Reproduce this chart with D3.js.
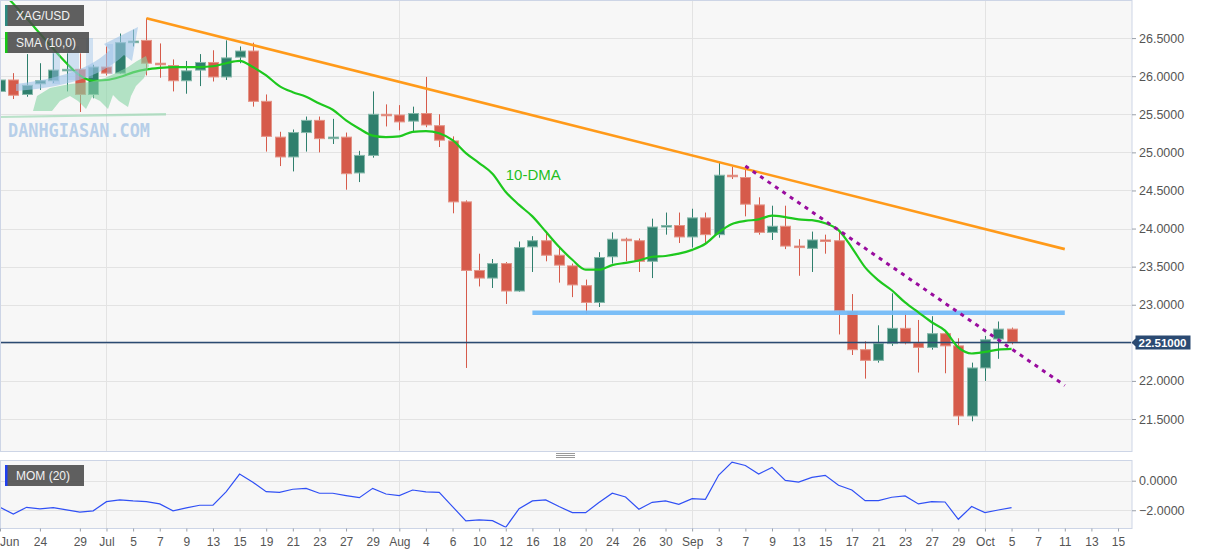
<!DOCTYPE html>
<html><head><meta charset="utf-8">
<script src="https://cdn.jsdelivr.net/npm/d3@7"></script>
<style>
html,body{margin:0;padding:0;background:#fff;overflow:hidden;}
svg{display:block;font-family:"Liberation Sans",Arial,sans-serif;}
</style></head><body>
<svg id="chart" width="1207" height="555"></svg>
<script>
// ---- DATA (XAG/USD daily, 2021-06-21 .. 2021-10-05, index = trading day) ----
const openP  = [25.80,25.95,25.76,25.90,25.94,26.07,26.09,25.76,26.12,26.04,26.44,26.47,26.17,26.14,25.94,26.08,26.18,25.99,26.25,26.33,25.67,25.20,24.94,25.26,25.42,25.19,25.20,24.73,24.96,25.50,25.49,25.41,25.51,25.35,25.15,24.35,23.45,23.35,23.54,23.18,23.76,23.84,23.65,23.51,23.25,23.03,23.63,23.86,23.84,23.57,24.02,24.04,23.89,24.14,23.92,24.70,24.67,24.31,23.95,24.03,23.77,23.74,23.85,23.84,22.91,22.41,22.27,22.49,22.69,22.50,22.44,22.62,22.46,21.54,22.17,22.55,22.68];
const highP  = [26.08,26.04,26.29,26.17,26.30,26.30,26.30,26.15,26.39,26.56,26.61,26.76,26.43,26.22,26.20,26.29,26.34,26.47,26.39,26.44,25.76,25.27,25.30,25.47,25.47,25.44,25.26,25.02,25.80,25.63,25.62,25.60,25.99,25.50,25.21,24.37,23.67,23.60,23.56,23.83,23.90,23.96,23.76,23.54,23.33,23.69,23.95,23.88,23.87,24.13,24.21,24.21,24.26,24.21,24.86,24.81,24.82,24.41,24.30,24.30,23.86,23.96,23.92,23.96,23.14,22.52,22.73,23.15,22.89,22.80,22.85,22.65,22.56,22.24,22.59,22.78,22.70];
const lowP   = [25.56,25.70,25.73,25.82,25.91,25.80,25.53,25.71,26.01,26.03,26.39,26.01,25.98,25.80,25.77,25.87,25.93,25.95,26.17,25.60,25.01,24.82,24.75,25.01,25.00,25.11,24.51,24.61,24.93,25.34,25.29,25.27,25.33,25.07,24.20,22.17,23.24,23.22,23.01,23.17,23.43,23.57,23.29,23.10,22.88,22.97,23.54,23.57,23.43,23.35,23.92,23.81,23.75,23.80,23.88,24.65,24.16,23.92,23.85,23.73,23.38,23.43,23.67,22.61,22.34,22.03,22.24,22.46,22.48,22.11,22.41,22.10,21.42,21.47,22.00,22.29,22.48];
const closeP = [25.95,25.75,25.88,25.94,26.08,26.09,25.76,26.12,26.04,26.44,26.46,26.17,26.15,25.94,26.07,26.18,25.99,26.24,26.33,25.67,25.21,24.94,25.26,25.42,25.18,25.20,24.72,24.96,25.50,25.49,25.40,25.51,25.36,25.16,24.35,23.45,23.35,23.54,23.18,23.75,23.84,23.65,23.52,23.26,23.03,23.62,23.86,23.84,23.57,24.02,24.04,23.89,24.14,23.92,24.70,24.68,24.32,23.95,24.03,23.77,23.75,23.85,23.84,22.92,22.41,22.27,22.49,22.69,22.50,22.44,22.62,22.46,21.54,22.17,22.54,22.68,22.51];
const sma10  = [27.14,26.95,26.76,26.56,26.36,26.17,26.01,25.94,25.95,25.99,26.05,26.09,26.11,26.12,26.12,26.12,26.13,26.17,26.20,26.12,26.01,25.87,25.79,25.73,25.64,25.56,25.42,25.31,25.22,25.20,25.21,25.27,25.28,25.25,25.16,24.99,24.86,24.72,24.48,24.31,24.16,23.96,23.76,23.59,23.46,23.46,23.52,23.55,23.58,23.63,23.64,23.67,23.72,23.80,23.95,24.06,24.10,24.12,24.17,24.15,24.12,24.11,24.07,23.98,23.75,23.49,23.32,23.19,23.03,22.90,22.77,22.66,22.44,22.36,22.38,22.41,22.42];
const mom20  = [-1.80,-2.25,-1.80,-1.91,-1.82,-1.98,-2.13,-2.04,-1.42,-1.30,-1.37,-1.42,-1.57,-2.04,-1.84,-1.66,-1.66,-0.74,0.45,-0.11,-0.74,-0.79,-0.58,-0.52,-0.85,-0.85,-1.01,-1.15,-0.52,-0.90,-1.01,-0.63,-0.76,-0.79,-1.75,-2.72,-2.65,-2.70,-3.15,-1.89,-1.37,-1.30,-1.75,-2.16,-2.16,-1.48,-0.85,-1.10,-1.93,-1.46,-1.37,-1.60,-1.21,-1.26,0.38,1.26,1.03,0.45,0.90,0.02,-0.09,0.22,0.36,-0.31,-0.63,-1.35,-1.35,-1.12,-1.03,-1.57,-1.42,-1.44,-2.61,-1.75,-2.16,-1.98,-1.82];
const xTickIdx    = [0,3,6,8,10,12,14,16,18,20,22,24,26,28,30,32,34,36,38,40,42,44,46,48,50,52,54,56,58,60,62,64,66,68,70,72,74,76,78,80,82,84];
const xTickLabels = ["Jun","24","29","Jul","5","7","9","13","15","19","21","23","27","29","Aug","4","6","10","12","16","18","20","24","26","30","Sep","3","7","9","13","15","17","21","23","27","29","Oct","5","7","11","13","15"];
const monthIdx    = [8,30,52,74];
const yTicks      = [21.5,22.0,22.5,23.0,23.5,24.0,24.5,25.0,25.5,26.0,26.5];
const momTicks    = [0,-2];
const lastPrice   = 22.51;
const resistTrend = [[11,26.76],[80,23.73]];
const shortTrend  = [[56,24.82],[80,21.94]];
const supportLvl  = [[40,22.895],[80,22.895]];

// ---- LAYOUT ----
const svg = d3.select("#chart");
const PL=0, PR=1131.5, PT=0, PB=451, ST=460, SB=528;
const x  = d3.scaleLinear().domain([0,85]).range([0,1131.35]);
const y  = d3.scaleLinear().domain([21.08,27.0]).range([PB,PT]);
const ym = d3.scaleLinear().domain([-3.2,1.4]).range([SB,ST]);
const idx = d3.range(closeP.length);

svg.append("rect").attr("width",1207).attr("height",555).attr("fill","#fff");
const defs = svg.append("defs");
defs.append("clipPath").attr("id","cMain").append("rect").attr("x",PL+0.5).attr("y",PT+0.5).attr("width",PR-PL-1).attr("height",PB-PT-1);
defs.append("clipPath").attr("id","cSub").append("rect").attr("x",PL+0.5).attr("y",ST+0.5).attr("width",PR-PL-1).attr("height",SB-ST-1);

// panels backgrounds
svg.append("rect").attr("x",PL+0.5).attr("y",PT+0.5).attr("width",PR-PL).attr("height",PB-PT).attr("fill","#f7f7f7");
svg.append("rect").attr("x",PL+0.5).attr("y",ST+0.5).attr("width",PR-PL).attr("height",SB-ST).attr("fill","#f7f7f7");

// grid
const grid = svg.append("g").attr("stroke","#e3e3e3").attr("stroke-width",1);
grid.selectAll(".hg").data(yTicks).join("line").attr("x1",PL).attr("x2",PR).attr("y1",d=>Math.round(y(d))+0.5).attr("y2",d=>Math.round(y(d))+0.5);
grid.selectAll(".vg").data(monthIdx).join("line").attr("x1",d=>Math.round(x(d))+0.5).attr("x2",d=>Math.round(x(d))+0.5).attr("y1",PT).attr("y2",PB);
grid.selectAll(".hm").data(momTicks).join("line").attr("x1",PL).attr("x2",PR).attr("y1",d=>Math.round(ym(d))+0.5).attr("y2",d=>Math.round(ym(d))+0.5);
grid.selectAll(".vm").data(monthIdx).join("line").attr("x1",d=>Math.round(x(d))+0.5).attr("x2",d=>Math.round(x(d))+0.5).attr("y1",ST).attr("y2",SB);

// main plot content
const main = svg.append("g").attr("clip-path","url(#cMain)");
const RED="#d65b4b", RED_S="#e39487", GRN="#2f7f6d", GRN_S="#86b8aa";
const cg = main.append("g");
cg.selectAll(".wick").data(idx).join("line")
  .attr("x1",i=>Math.round(x(i))+0.5).attr("x2",i=>Math.round(x(i))+0.5)
  .attr("y1",i=>y(highP[i])).attr("y2",i=>y(lowP[i]))
  .attr("stroke",i=>closeP[i]>=openP[i]?GRN:RED).attr("stroke-width",1);
cg.selectAll(".body").data(idx).join("rect")
  .attr("x",i=>Math.round(x(i))-4.5).attr("width",10)
  .attr("y",i=>y(Math.max(openP[i],closeP[i])))
  .attr("height",i=>Math.max(1.5,Math.abs(y(openP[i])-y(closeP[i]))))
  .attr("fill",i=>closeP[i]>=openP[i]?GRN:RED)
  .attr("stroke",i=>closeP[i]>=openP[i]?GRN_S:RED_S).attr("stroke-width",1);

// lines
const lineXY = d3.line().x(d=>x(d[0])).y(d=>y(d[1]));
main.append("path").datum(supportLvl).attr("d",lineXY).attr("stroke","#74bbf7").attr("stroke-width",4.5).attr("fill","none").attr("opacity",0.95);
main.append("line").attr("x1",PL).attr("x2",PR).attr("y1",Math.round(y(lastPrice))+0.5).attr("y2",Math.round(y(lastPrice))+0.5).attr("stroke","#2b4a72").attr("stroke-width",1.3);
main.append("path").datum(idx.map(i=>[i,sma10[i]])).attr("d",d3.line().x(d=>x(d[0])).y(d=>y(d[1])).curve(d3.curveMonotoneX)).attr("stroke","#1ec81e").attr("stroke-width",2.2).attr("fill","none");
const straight = d3.line().x(d=>x(d[0])).y(d=>y(d[1]));
main.append("path").datum(resistTrend).attr("d",straight).attr("stroke","#ff9a1a").attr("stroke-width",2.6).attr("fill","none");
main.append("path").datum(shortTrend).attr("d",straight).attr("stroke","#990c9e").attr("stroke-width",3).attr("stroke-dasharray","4,5").attr("fill","none");
main.append("text").attr("x",x(38)).attr("y",y(24.64)).attr("fill","#1fbf1f").attr("font-size",15).text("10-DMA");

// watermark
const wm = svg.append("g").attr("clip-path","url(#cMain)");
wm.append("path").attr("d","M0,116 L166,113 L166,115.5 L0,118 Z").attr("fill","#8fd3aa").attr("opacity",0.6);
wm.append("path").attr("d","M33,111 L37,96 L50,88 L70,84 L90,82 L105,78 L118,72 L128,67 L137,61 L146,56 L149,66 L144,78 L136,86 L131,96 L128,107 L119,101 L113,95 L108,109 L100,101 L92,97 L86,109 L78,101 L70,96 L60,101 L52,111 Z")
  .attr("fill","#86d3a4").attr("opacity",0.6);
wm.append("path").attr("d","M16,84 C45,80 85,74 110,50 L104,44 L138,27 L132,61 L124,55 C100,78 60,88 16,91 Z")
  .attr("fill","#9dc3e8").attr("opacity",0.6);
[[52,52,8,32],[68,46,11,34],[86,38,7,40],[107,44,6,30]].forEach(b=>{
  wm.append("rect").attr("x",b[0]).attr("y",b[1]).attr("width",b[2]).attr("height",b[3]).attr("fill","#9dc3e8").attr("opacity",0.45);
});
wm.append("text").attr("x",8).attr("y",137).attr("font-family","DejaVu Sans Mono").attr("font-weight","bold").attr("font-size",19)
  .attr("textLength",142).attr("lengthAdjust","spacingAndGlyphs").attr("fill","#b7cfe9").text("DANHGIASAN.COM");

// sub panel MOM
const subG = svg.append("g").attr("clip-path","url(#cSub)");
subG.append("path").datum(idx.map(i=>[i,mom20[i]]))
  .attr("d",d3.line().x(d=>x(d[0])).y(d=>ym(d[1])))
  .attr("stroke","#3050f5").attr("stroke-width",1.2).attr("fill","none");

// panel borders
svg.append("rect").attr("x",PL+0.5).attr("y",PT+0.5).attr("width",PR-PL).attr("height",PB-PT).attr("fill","none").attr("stroke","#cdd5e6");
svg.append("rect").attr("x",PL+0.5).attr("y",ST+0.5).attr("width",PR-PL).attr("height",SB-ST).attr("fill","none").attr("stroke","#cdd5e6");

// legends
function legend(yy,w,col,label){
  const g = svg.append("g");
  g.append("rect").attr("x",5).attr("y",yy).attr("width",w).attr("height",21).attr("fill","#4a4a4a").attr("opacity",0.88);
  g.append("rect").attr("x",5).attr("y",yy).attr("width",2.5).attr("height",21).attr("fill",col);
  g.append("text").attr("x",16).attr("y",yy+15).attr("fill","#f2f2f2").attr("font-size",12).text(label);
}
legend(5,79,"#2c8a80","XAG/USD");
legend(32,84,"#16c816","SMA (10,0)");
legend(465,79,"#2040f0","MOM (20)");

// right axes
const yAx = svg.append("g").attr("transform",`translate(${PR+0.5},0)`)
  .call(d3.axisRight(y).tickValues(yTicks).tickFormat(d3.format(".4f")).tickSize(4).tickPadding(3));
const mAx = svg.append("g").attr("transform",`translate(${PR+0.5},0)`)
  .call(d3.axisRight(ym).tickValues(momTicks).tickFormat(d3.format(".4f")).tickSize(4).tickPadding(3));
[yAx,mAx].forEach(a=>{
  a.select(".domain").remove();
  a.selectAll("line").attr("stroke","#9aa0aa");
  a.selectAll("text").attr("fill","#555").attr("font-size",12.5).attr("font-family","Liberation Sans, Arial, sans-serif");
});
// hide the tick label covered by the last-price tag
yAx.selectAll(".tick").filter(d=>Math.abs(y(d)-y(lastPrice))<12).select("text").remove();

// last price label
const ly = Math.round(y(lastPrice))+0.5;
svg.append("path").attr("d",`M${PR},${ly} L${PR+4},${ly-4} L${PR+4},${ly-7} L${PR+59},${ly-7} L${PR+59},${ly+7} L${PR+4},${ly+7} L${PR+4},${ly+4} Z`).attr("fill","#2b4a72");
svg.append("text").attr("x",PR+31).attr("y",ly+4).attr("text-anchor","middle").attr("fill","#fff").attr("font-weight","bold").attr("font-size",11.5).text(lastPrice.toFixed(5));

// x axis
const xAx = svg.append("g").attr("transform",`translate(0,${SB+0.5})`)
  .call(d3.axisBottom(x).tickValues(xTickIdx).tickFormat((d,i)=>xTickLabels[i]).tickSize(3).tickPadding(6));
xAx.select(".domain").remove();
xAx.selectAll("line").attr("stroke","#9aa0aa");
xAx.selectAll("text").attr("fill","#555").attr("font-size",12).attr("font-family","Liberation Sans, Arial, sans-serif");
xAx.selectAll("text").each(function(){
  const bb=this.getBBox(); const tx=+d3.select(this.parentNode).attr("transform").match(/translate\(([-\d.]+)/)[1];
  if(tx+bb.x<0){ d3.select(this).attr("dx",-(tx+bb.x)); }
});

// panel divider handle
svg.append("g").attr("stroke","#999").attr("stroke-width",1).selectAll("line").data([453.5,455.5,457.5]).join("line")
  .attr("x1",556).attr("x2",575).attr("y1",d=>d).attr("y2",d=>d);
</script>
</body></html>
